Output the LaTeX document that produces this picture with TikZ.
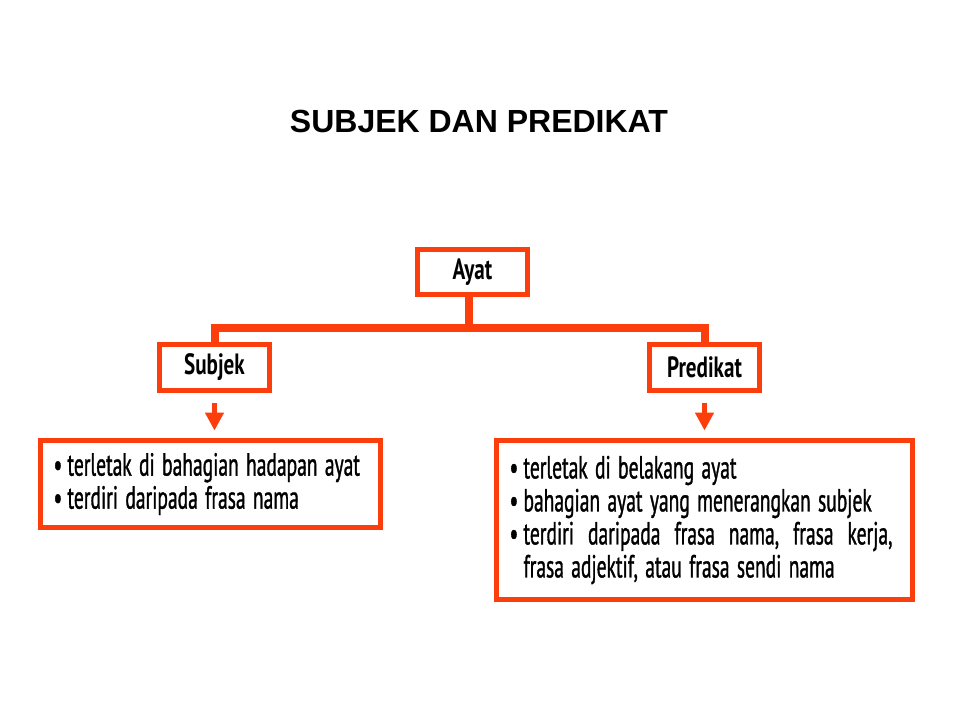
\documentclass[tikz,border=0pt]{standalone}
\usepackage{fontspec}
\setmainfont{PT Sans}
\newfontfamily\titlefont{Liberation Sans}
\newfontfamily\labfont{PT Sans}[FakeStretch=0.72]
\newfontfamily\bodyfont{PT Sans}[FakeStretch=0.61, FakeBold=1]
\usetikzlibrary{arrows.meta}
\definecolor{ored}{RGB}{252,62,12}
\tikzset{
  box/.style={draw=ored, line width=3.75pt, fill=white, inner sep=0pt},
  lab/.style={box, minimum width=82.5pt, minimum height=34pt,
    font=\labfont\bfseries\fontsize{22pt}{24pt}\selectfont},
  content/.style={box, inner xsep=9.75pt, align=left,
    font=\bodyfont\fontsize{24pt}{24.75pt}\selectfont},
  link/.style={draw=ored, line width=6pt, line join=miter},
  arr/.style={draw=ored, line width=3.75pt, -{Triangle[width=13.5pt,length=13.5pt]}},
}
\newcommand\bul{\makebox[10.5pt][l]{•}}
\newcommand\tsp{\spaceskip=5.5pt plus 1pt minus 1pt\relax}
\begin{document}
\begin{tikzpicture}[x=0.75pt,y=-0.75pt]
\useasboundingbox[fill=white] (0,0) rectangle (960,720);
\node[font=\titlefont\bfseries\fontsize{24pt}{28pt}\selectfont, anchor=base] (title) at (479,133) {SUBJEK DAN PREDIKAT};
\node[lab, minimum height=33.75pt] (ayat) at (472.5,272) {Ayat};
\node[lab] (subjek) at (214.5,367.5) {Subjek};
\node[lab] (predikat) at (704.5,367.5) {Predikat};
\node[content, minimum width=255pt, minimum height=65.25pt, text width=235.5pt] (lbox) at (210.5,484)
  {\tsp\bul terletak di bahagian hadapan ayat\\
   \bul terdiri daripada frasa nama};
\node[content, minimum width=312pt, minimum height=119.25pt, text width=292.5pt] (rbox) at (704.5,520)
  {\tsp\bul terletak di belakang ayat\\
   \bul bahagian ayat yang menerangkan subjek\\
   \bul\makebox[276.75pt][l]{terdiri\hfill daripada\hfill frasa\hfill nama,\hfill frasa\hfill kerja,}\\
   \hspace*{10.5pt}frasa adjektif, atau frasa sendi nama};
\coordinate (bar) at (469,327.5);
\draw[link] (ayat.south -| bar) -- (bar);
\draw[link] (subjek.north) |- (bar) -| (predikat.north);
\draw[arr, shorten <=7.9pt, shorten >=5.6pt] (subjek.south) -- (subjek.south |- lbox.north);
\draw[arr, shorten <=7.5pt, shorten >=5.6pt] (predikat.south) -- (predikat.south |- rbox.north);
\end{tikzpicture}
\end{document}
